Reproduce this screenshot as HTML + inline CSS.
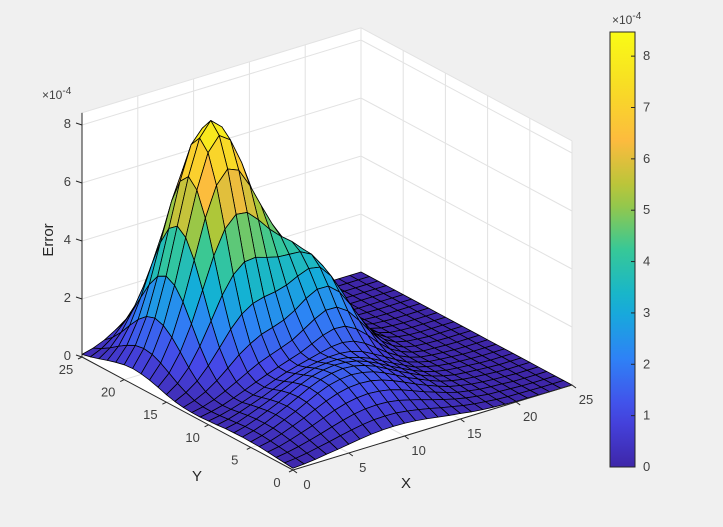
<!DOCTYPE html>
<html><head><meta charset="utf-8"><style>
html,body{margin:0;padding:0;background:#f0f0f0;}
svg{display:block;font-family:"Liberation Sans",sans-serif;}
</style></head><body>
<svg id="chart" width="723" height="527" viewBox="0 0 723 527" xmlns="http://www.w3.org/2000/svg">
<rect width="723" height="527" fill="#f0f0f0"/>
<g id="walls"></g>
<g id="grid"></g>
<g id="surf"></g>
<g id="axes"></g>
<g id="cbar"></g>
<text x="42" y="99" font-size="12" fill="#404040">×10<tspan dy="-5" font-size="10">-4</tspan></text>
<text x="612" y="24" font-size="12" fill="#404040">×10<tspan dy="-5" font-size="10">-4</tspan></text>
<text x="53" y="240" font-size="15" fill="#262626" text-anchor="middle" transform="rotate(-90 53 240)">Error</text>
<text x="406" y="488" font-size="15" fill="#262626" text-anchor="middle">X</text>
<text x="197" y="481" font-size="15" fill="#262626" text-anchor="middle">Y</text>
</svg>
<script>
const xTicks=[0,5,10,15,20,25];
const yTicks=[0,5,10,15,20,25];
const zTicks=[0,2,4,6,8];
const cbTicks=[0,1,2,3,4,5,6,7,8];
// Error surface, units of 1e-4; rows = Y 0..25, columns = X 0..25
const zRows=[
[.06,.09,.13,.19,.24,.3,.36,.41,.44,.45,.44,.41,.36,.3,.24,.19,.13,.09,.06,.04,.02,.02,.01,0,0,0],
[.09,.13,.19,.27,.35,.44,.52,.59,.64,.65,.64,.59,.52,.44,.35,.27,.19,.13,.09,.05,.03,.02,.01,0,0,0],
[.12,.18,.26,.36,.47,.59,.7,.8,.86,.88,.86,.8,.7,.59,.47,.36,.26,.18,.12,.07,.05,.03,.01,0,0,0],
[.15,.22,.33,.46,.59,.74,.89,1.01,1.08,1.11,1.08,1.01,.89,.74,.59,.46,.33,.22,.15,.09,.06,.04,.01,0,0,0],
[.18,.26,.39,.54,.7,.88,1.05,1.19,1.28,1.31,1.28,1.19,1.05,.88,.7,.54,.39,.26,.18,.11,.07,.04,.02,0,0,0],
[.19,.29,.43,.6,.77,.97,1.16,1.32,1.41,1.45,1.41,1.32,1.16,.97,.77,.6,.43,.29,.19,.12,.08,.05,.02,0,0,0],
[.2,.3,.44,.62,.8,1.0,1.2,1.36,1.46,1.51,1.48,1.38,1.23,1.03,.83,.64,.46,.31,.2,.12,.08,.05,.02,0,0,0],
[.19,.29,.43,.6,.77,.97,1.16,1.32,1.42,1.47,1.45,1.38,1.24,1.06,.85,.66,.47,.31,.2,.12,.08,.05,.02,0,0,0],
[.18,.26,.4,.55,.71,.9,1.07,1.21,1.33,1.38,1.39,1.34,1.23,1.08,.88,.68,.49,.31,.21,.12,.07,.04,.02,0,0,0],
[.15,.23,.35,.49,.63,.79,.95,1.1,1.2,1.27,1.32,1.33,1.28,1.16,.96,.75,.53,.33,.21,.11,.07,.04,.01,0,0,0],
[.13,.2,.3,.42,.56,.71,.86,1.0,1.11,1.21,1.31,1.4,1.43,1.36,1.17,.9,.62,.39,.22,.11,.06,.03,.01,0,0,0],
[.11,.18,.28,.42,.57,.73,.88,1.02,1.15,1.28,1.46,1.64,1.75,1.72,1.51,1.18,.79,.47,.26,.12,.05,.03,.01,0,0,0],
[.11,.19,.32,.5,.7,.91,1.11,1.26,1.4,1.55,1.79,2.04,2.23,2.22,1.97,1.53,1.03,.59,.31,.14,.06,.03,.01,0,0,0],
[.13,.25,.44,.7,1.02,1.36,1.62,1.83,1.95,2.09,2.31,2.6,2.8,2.79,2.47,1.91,1.28,.73,.37,.16,.07,.03,0,0,0,0],
[.18,.37,.65,1.06,1.56,2.08,2.49,2.74,2.85,2.91,3.02,3.21,3.36,3.29,2.87,2.2,1.46,.84,.41,.17,.07,.02,0,0,0,0],
[.26,.53,.96,1.58,2.33,3.1,3.69,4.02,4.06,3.94,3.84,3.81,3.78,3.58,3.07,2.33,1.53,.86,.42,.17,.06,.02,0,0,0,0],
[.36,.73,1.34,2.19,3.24,4.3,5.11,5.5,5.45,5.08,4.64,4.28,3.98,3.6,3.0,2.23,1.46,.82,.39,.16,.06,.02,0,0,0,0],
[.45,.92,1.69,2.79,4.11,5.45,6.46,6.91,6.75,6.1,5.3,4.54,3.92,3.33,2.68,1.96,1.25,.69,.33,.14,.05,.02,0,0,0,0],
[.51,1.06,1.94,3.21,4.74,6.26,7.43,7.91,7.64,6.75,5.63,4.53,3.62,2.88,2.19,1.55,.98,.53,.25,.1,.04,.01,0,0,0,0],
[.54,1.11,2.04,3.37,4.98,6.57,7.78,8.27,7.93,6.91,5.58,4.27,3.18,2.34,1.68,1.14,.69,.37,.17,.07,.02,.01,0,0,0,0],
[.51,1.06,1.94,3.21,4.74,6.25,7.4,7.85,7.49,6.46,5.1,3.75,2.63,1.81,1.2,.77,.45,.24,.1,.04,.01,0,0,0,0,0],
[.44,.91,1.68,2.77,4.1,5.41,6.39,6.77,6.45,5.52,4.3,3.06,2.05,1.32,.81,.49,.27,.13,.06,.02,.01,0,0,0,0,0],
[.35,.72,1.32,2.17,3.21,4.24,5.01,5.29,5.04,4.29,3.31,2.31,1.5,.92,.53,.29,.16,.07,.03,.01,0,0,0,0,0,0],
[.25,.51,.93,1.54,2.28,3.01,3.55,3.76,3.56,3.03,2.32,1.6,1.01,.6,.33,.17,.08,.03,.01,0,0,0,0,0,0,0],
[.16,.33,.6,.99,1.47,1.94,2.29,2.42,2.29,1.95,1.49,1.01,.63,.36,.19,.09,.05,.02,0,0,0,0,0,0,0,0],
[.09,.19,.35,.58,.86,1.14,1.34,1.42,1.34,1.14,.86,.58,.35,.19,.09,.04,.02,.01,0,0,0,0,0,0,0,0]
];
const NS="http://www.w3.org/2000/svg";
const O=[293,470], EX=[279/25,-85/25], EY=[-211/25,-113/25], EZ=29;
const ZMAX=8.42, CMAX=8.47;
function P(x,y,z){return [O[0]+x*EX[0]+y*EY[0], O[1]+x*EX[1]+y*EY[1]-z*EZ];}
function mk(tag,attrs,parent){const e=document.createElementNS(NS,tag);for(const k in attrs)e.setAttribute(k,attrs[k]);parent.appendChild(e);return e;}
function pts(a){return a.map(p=>p[0].toFixed(2)+","+p[1].toFixed(2)).join(" ");}
const stops=[[0,[62,38,168]],[.125,[70,72,232]],[.25,[46,130,246]],[.375,[18,177,214]],[.5,[55,200,151]],[.625,[171,199,57]],[.75,[252,187,62]],[.875,[248,221,36]],[1,[249,251,21]]];
function parula(t){t=Math.max(0,Math.min(1,t));for(let i=1;i<stops.length;i++){if(t<=stops[i][0]){const a=stops[i-1],b=stops[i];const f=(t-a[0])/(b[0]-a[0]);const c=a[1].map((v,k)=>Math.round(v+(b[1][k]-v)*f));return "rgb("+c.join(",")+")";}}return "rgb(249,251,21)";}
const walls=document.getElementById('walls'),grid=document.getElementById('grid'),surf=document.getElementById('surf'),axes=document.getElementById('axes'),cbar=document.getElementById('cbar');
const X1=xTicks[xTicks.length-1], Y1=yTicks[yTicks.length-1];
const wall=mk('polygon',{points:pts([P(0,Y1,0),P(0,0,0),P(X1,0,0),P(X1,0,ZMAX),P(X1,Y1,ZMAX),P(0,Y1,ZMAX)]),fill:"#ffffff"},walls);


const gc="#e2e2e2";
xTicks.forEach(v=>{
  const l=mk('polyline',{points:pts([P(v,0,0),P(v,Y1,0),P(v,Y1,ZMAX)]),fill:"none",stroke:gc,"stroke-width":1},grid);
  
  
});
yTicks.forEach(v=>{
  const l=mk('polyline',{points:pts([P(0,v,0),P(X1,v,0),P(X1,v,ZMAX)]),fill:"none",stroke:gc,"stroke-width":1},grid);
  
  
});
zTicks.concat([ZMAX]).forEach(v=>{
  const l=mk('polyline',{points:pts([P(0,Y1,v),P(X1,Y1,v),P(X1,0,v)]),fill:"none",stroke:gc,"stroke-width":1},grid);
  
  
});
const ny=zRows.length, nx=zRows[0].length;
const sx=X1/(nx-1), sy=Y1/(ny-1);
const cells=[];
for(let j=0;j<ny-1;j++)for(let i=0;i<nx-1;i++)cells.push([i,j]);
cells.sort((a,b)=>(b[0]+b[1])-(a[0]+a[1]));
cells.forEach(([i,j])=>{
  const z00=zRows[j][i],z10=zRows[j][i+1],z11=zRows[j+1][i+1],z01=zRows[j+1][i];
  const avg=(z00+z10+z11+z01)/4;
  const q=mk('polygon',{points:pts([P(i*sx,j*sy,z00),P((i+1)*sx,j*sy,z10),P((i+1)*sx,(j+1)*sy,z11),P(i*sx,(j+1)*sy,z01)]),fill:parula(avg/CMAX),stroke:"#000","stroke-width":0.8,"stroke-linejoin":"round"},surf);
  
  
});
const ac="#262626";
function line(a,b,name){const l=mk('line',{x1:a[0],y1:a[1],x2:b[0],y2:b[1],stroke:ac,"stroke-width":1},axes);}
line(P(0,0,0),P(X1,0,0),'x-axis-line');
line(P(0,0,0),P(0,Y1,0),'y-axis-line');
line(P(0,Y1,0),P(0,Y1,ZMAX),'z-axis-line');
function txt(x,y,s,anchor,name){const t=mk('text',{x:x,y:y,"font-size":13,fill:"#404040","text-anchor":anchor},axes);t.textContent=s;}
xTicks.forEach(v=>{const p=P(v,0,0);line(p,[p[0]+4,p[1]+3],'x-tick');txt(p[0]+14,p[1]+19,String(v),'middle','x-tick-label');});
yTicks.forEach(v=>{const p=P(0,v,0);line(p,[p[0]-4,p[1]+2],'y-tick');txt(p[0]-16,p[1]+17,String(v),'middle','y-tick-label');});
zTicks.forEach(v=>{const p=P(0,Y1,v);line(p,[p[0]-6,p[1]-2],'z-tick');txt(p[0]-11,p[1]+3,String(v),'end','z-tick-label');});
const cb={x:610,y:32,w:25,h:435};
const defs=mk('defs',{},cbar);
const gr=mk('linearGradient',{id:"pg",x1:0,y1:1,x2:0,y2:0},defs);
for(let k=0;k<=20;k++){mk('stop',{offset:k/20,"stop-color":parula(k/20)},gr);}
const cr=mk('rect',{x:cb.x,y:cb.y,width:cb.w,height:cb.h,fill:"url(#pg)",stroke:"#262626","stroke-width":1},cbar);


cbTicks.forEach(v=>{
  const y=cb.y+cb.h-v/CMAX*cb.h;
  const t=mk('line',{x1:cb.x+cb.w-4,y1:y,x2:cb.x+cb.w,y2:y,stroke:"#262626","stroke-width":1},cbar);
  
  
  const l=mk('text',{x:cb.x+cb.w+8,y:y+4,"font-size":13,fill:"#404040"},cbar);
  l.textContent=String(v);
  
  
});
</script>
</body></html>
